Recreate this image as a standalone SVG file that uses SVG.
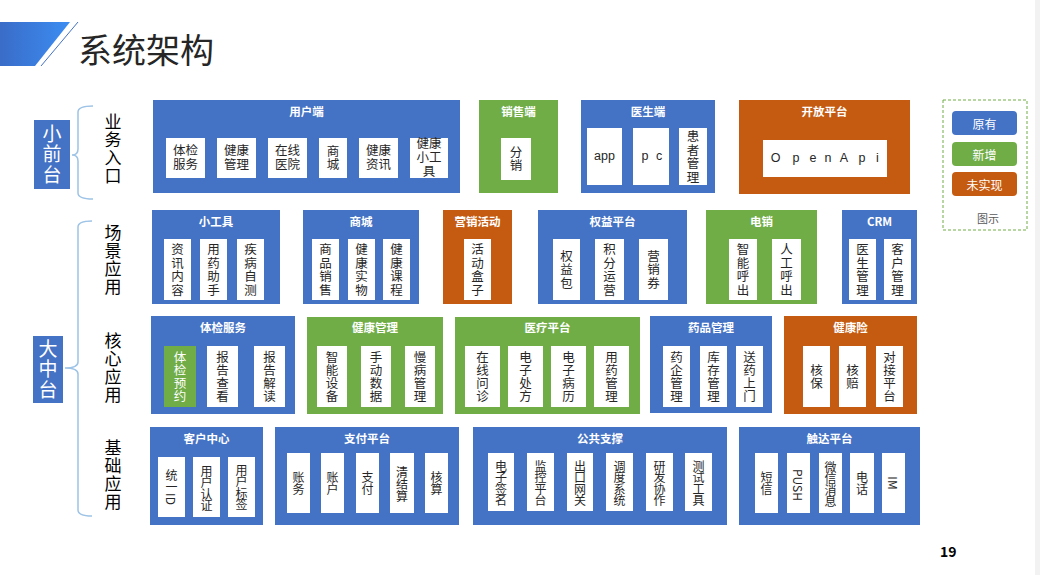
<svg xmlns="http://www.w3.org/2000/svg" width="1040" height="575" viewBox="0 0 1040 575">
<defs>
<linearGradient id="tg" x1="0" y1="0" x2="1" y2="0"><stop offset="0" stop-color="#3a6cc8"/><stop offset="1" stop-color="#3b8df2"/></linearGradient>
<style>
.b{fill:#4472c4}.g{fill:#70ad47}.o{fill:#c55a11}.w{fill:#fff}
text{font-family:"Noto Sans CJK SC","Noto Sans",sans-serif}
.t{font-size:11.5px;font-weight:bold;fill:#fff;text-anchor:middle;dominant-baseline:central}
.h{font-family:"Liberation Sans","Noto Sans CJK SC",sans-serif;font-size:12.5px;fill:#262626;text-anchor:middle;dominant-baseline:central}
.v{writing-mode:vertical-rl;text-anchor:middle;fill:#262626;font-size:12.5px}
.r2{letter-spacing:1px}
.r3{letter-spacing:0.5px}
.r4{font-size:12px}
.r4t{font-size:12px;letter-spacing:-0.5px}
.cw{fill:#fff}
.s{writing-mode:vertical-rl;text-anchor:middle;font-size:17px;fill:#000;letter-spacing:1px}
.side{writing-mode:vertical-rl;text-anchor:middle;font-size:19px;fill:#fff;letter-spacing:1.5px}
.lg{font-size:12px;fill:#fff;text-anchor:middle;dominant-baseline:central}
.br{fill:none;stroke:#9dc3e6;stroke-width:1.5}
</style>
</defs>
<rect width="1040" height="575" fill="#fff"/>
<rect x="1035" y="0" width="5" height="575" fill="#f2f2f2"/>
<g id="title">
<polygon points="0,22 70,22 35,66 0,66" fill="url(#tg)"/>
<line x1="78" y1="22" x2="41" y2="66" stroke="#4472c4" stroke-width="1"/>
<text x="78" y="63" font-size="34" fill="#262626">系统架构</text>
</g>
<g id="connectors">
<path class="br" d="M93,106 Q78,106 78,112 V149 Q78,155 72,155 Q78,155 78,161 V193 Q78,199 93,199"/>
<path class="br" d="M92,221 Q78,221 78,227 V362 Q78,368 65,368 Q78,368 78,374 V510 Q78,516 92,516"/>
</g>
<g id="side-small">
<rect class="b" x="34" y="120" width="36" height="69"/>
<text class="side" x="52" y="155">小前台</text>
</g>
<g id="side-big">
<rect class="b" x="33" y="336" width="30" height="67"/>
<text class="side" x="48" y="370">大中台</text>
</g>
<g id="labels">
<text class="s" x="113" y="149">业务入口</text>
<text class="s" x="113" y="260">场景应用</text>
<text class="s" x="113" y="368">核心应用</text>
<text class="s" x="113" y="475">基础应用</text>
</g>

<!-- Row 1 -->
<g id="n-yonghuduan">
<rect class="b" x="153" y="100" width="307" height="93"/>
<text class="t" x="306.5" y="110.5">用户端</text>
<rect class="w" x="166" y="138" width="39" height="40"/>
<text class="h"><tspan x="185.5" y="151">体检</tspan><tspan x="185.5" y="165">服务</tspan></text>
<rect class="w" x="217" y="138" width="39" height="40"/>
<text class="h"><tspan x="236.5" y="151">健康</tspan><tspan x="236.5" y="165">管理</tspan></text>
<rect class="w" x="268" y="138" width="39" height="40"/>
<text class="h"><tspan x="287.5" y="151">在线</tspan><tspan x="287.5" y="165">医院</tspan></text>
<rect class="w" x="319" y="138" width="28" height="40"/>
<text class="v r2" x="333" y="158">商城</text>
<rect class="w" x="359" y="138" width="39" height="40"/>
<text class="h"><tspan x="378.5" y="151">健康</tspan><tspan x="378.5" y="165">资讯</tspan></text>
<rect class="w" x="410" y="138" width="38" height="40"/>
<text class="h"><tspan x="429" y="144">健康</tspan><tspan x="429" y="158">小工</tspan><tspan x="429" y="172">具</tspan></text>
</g>
<g id="n-xiaoshouduan">
<rect class="g" x="479" y="100" width="79" height="93"/>
<text class="t" x="518.5" y="110.5">销售端</text>
<rect class="w" x="501" y="138" width="30" height="42"/>
<text class="v r2" x="516" y="159">分销</text>
</g>
<g id="n-yishengduan">
<rect class="b" x="581" y="100" width="134" height="93"/>
<text class="t" x="648" y="110.5">医生端</text>
<rect class="w" x="587" y="128" width="35" height="57"/>
<text class="h" x="604.5" y="156" font-size="13.5">app</text>
<rect class="w" x="633" y="128" width="36" height="57"/>
<text class="h" font-size="13.5"><tspan x="645" y="156">p</tspan><tspan x="659" y="156">c</tspan></text>
<rect class="w" x="679" y="128" width="28" height="57"/>
<text class="v r2" x="693" y="157">患者管理</text>
</g>
<g id="n-kaifangpingtai">
<rect class="o" x="739" y="100" width="171" height="94"/>
<text class="t" x="824.5" y="110.5">开放平台</text>
<rect class="w" x="763" y="140" width="124" height="37"/>
<text class="h" font-size="14"><tspan x="775.5" y="158">O</tspan><tspan x="796" y="158">p</tspan><tspan x="813" y="158">e</tspan><tspan x="828" y="158">n</tspan><tspan x="844" y="158">A</tspan><tspan x="862" y="158">p</tspan><tspan x="877.5" y="158">i</tspan></text>
</g>
<g id="legend">
<rect x="943" y="100" width="84" height="130" fill="none" stroke="#70ad47" stroke-width="1" stroke-dasharray="3,2"/>
<rect class="b" x="952" y="111" width="65" height="24" rx="4"/>
<text class="lg" x="984.5" y="123">原有</text>
<rect class="g" x="952" y="142" width="65" height="24" rx="4"/>
<text class="lg" x="984.5" y="154">新增</text>
<rect class="o" x="952" y="172" width="65" height="24" rx="4"/>
<text class="lg" x="984.5" y="184">未实现</text>
<text x="988" y="218" font-size="11" fill="#595959" text-anchor="middle" dominant-baseline="central">图示</text>
</g>

<!-- Row 2 -->
<g id="n-xiaogongju">
<rect class="b" x="152" y="210" width="128" height="94"/>
<text class="t" x="216" y="220.5">小工具</text>
<rect class="w" x="164" y="239" width="27" height="61"/>
<text class="v r2" x="177.5" y="270">资讯内容</text>
<rect class="w" x="200" y="239" width="27" height="61"/>
<text class="v r2" x="213.5" y="270">用药助手</text>
<rect class="w" x="237" y="239" width="27" height="61"/>
<text class="v r2" x="250.5" y="270">疾病自测</text>
</g>
<g id="n-shangcheng">
<rect class="b" x="303" y="210" width="116" height="94"/>
<text class="t" x="361" y="220.5">商城</text>
<rect class="w" x="312" y="239" width="27" height="61"/>
<text class="v r2" x="325.5" y="270">商品销售</text>
<rect class="w" x="348" y="239" width="27" height="61"/>
<text class="v r2" x="361.5" y="270">健康实物</text>
<rect class="w" x="383" y="239" width="27" height="61"/>
<text class="v r2" x="396.5" y="270">健康课程</text>
</g>
<g id="n-yingxiaohuodong">
<rect class="o" x="443" y="210" width="69" height="94"/>
<text class="t" x="477.5" y="220.5">营销活动</text>
<rect class="w" x="464" y="239" width="27" height="61"/>
<text class="v r2" x="477.5" y="270">活动盒子</text>
</g>
<g id="n-quanyipingtai">
<rect class="b" x="538" y="210" width="149" height="94"/>
<text class="t" x="612.5" y="220.5">权益平台</text>
<rect class="w" x="553" y="239" width="27" height="61"/>
<text class="v r2" x="566.5" y="270">权益包</text>
<rect class="w" x="595" y="239" width="29" height="61"/>
<text class="v r2" x="609.5" y="270">积分运营</text>
<rect class="w" x="639" y="239" width="29" height="61"/>
<text class="v r2" x="653.5" y="270">营销券</text>
</g>
<g id="n-dianxiao">
<rect class="g" x="706" y="210" width="111" height="94"/>
<text class="t" x="761.5" y="220.5">电销</text>
<rect class="w" x="729" y="239" width="28" height="61"/>
<text class="v r2" x="743" y="270">智能呼出</text>
<rect class="w" x="772" y="239" width="29" height="61"/>
<text class="v r2" x="786.5" y="270">人工呼出</text>
</g>
<g id="n-crm">
<rect class="b" x="842" y="210" width="75" height="94"/>
<text class="t" x="879.5" y="220.5">CRM</text>
<rect class="w" x="849" y="239" width="27" height="61"/>
<text class="v r2" x="862.5" y="270">医生管理</text>
<rect class="w" x="884" y="239" width="27" height="61"/>
<text class="v r2" x="897.5" y="270">客户管理</text>
</g>

<!-- Row 3 -->
<g id="n-tijianfuwu">
<rect class="b" x="151" y="316" width="144" height="98"/>
<text class="t" x="223" y="327">体检服务</text>
<rect class="g" x="164" y="346" width="32" height="61"/>
<text class="v r3 cw" x="180" y="377">体检预约</text>
<rect class="w" x="207" y="346" width="31" height="61"/>
<text class="v r3" x="222.5" y="377">报告查看</text>
<rect class="w" x="254" y="346" width="31" height="61"/>
<text class="v r3" x="269.5" y="377">报告解读</text>
</g>
<g id="n-jiankangguanli">
<rect class="g" x="307" y="317" width="136" height="97"/>
<text class="t" x="375" y="327">健康管理</text>
<rect class="w" x="317" y="346" width="30" height="61"/>
<text class="v r3" x="332" y="377">智能设备</text>
<rect class="w" x="361" y="346" width="30" height="61"/>
<text class="v r3" x="376" y="377">手动数据</text>
<rect class="w" x="405" y="346" width="30" height="61"/>
<text class="v r3" x="420" y="377">慢病管理</text>
</g>
<g id="n-yiliaopingtai">
<rect class="g" x="455" y="317" width="185" height="97"/>
<text class="t" x="547.5" y="327">医疗平台</text>
<rect class="w" x="465" y="346" width="35" height="61"/>
<text class="v r3" x="482.5" y="377">在线问诊</text>
<rect class="w" x="508" y="346" width="35" height="61"/>
<text class="v r3" x="525.5" y="377">电子处方</text>
<rect class="w" x="551" y="346" width="35" height="61"/>
<text class="v r3" x="568.5" y="377">电子病历</text>
<rect class="w" x="594" y="346" width="35" height="61"/>
<text class="v r3" x="611.5" y="377">用药管理</text>
</g>
<g id="n-yaopinguanli">
<rect class="b" x="650" y="316" width="122" height="97"/>
<text class="t" x="711" y="327">药品管理</text>
<rect class="w" x="663" y="346" width="27" height="61"/>
<text class="v r3" x="676.5" y="377">药企管理</text>
<rect class="w" x="700" y="346" width="27" height="61"/>
<text class="v r3" x="713.5" y="377">库存管理</text>
<rect class="w" x="736" y="346" width="27" height="61"/>
<text class="v r3" x="749.5" y="377">送药上门</text>
</g>
<g id="n-jiankangxian">
<rect class="o" x="784" y="316" width="133" height="98"/>
<text class="t" x="850.5" y="327">健康险</text>
<rect class="w" x="803" y="346" width="27" height="61"/>
<text class="v r3" x="816.5" y="377">核保</text>
<rect class="w" x="839" y="346" width="27" height="61"/>
<text class="v r3" x="852.5" y="377">核赔</text>
<rect class="w" x="876" y="346" width="27" height="61"/>
<text class="v r3" x="889.5" y="377">对接平台</text>
</g>

<!-- Row 4 -->
<g id="n-kehuzhongxin">
<rect class="b" x="150" y="427" width="113" height="98"/>
<text class="t" x="206.5" y="437.5">客户中心</text>
<rect class="w" x="158" y="457" width="27" height="60"/>
<text class="v r4" x="171.5" y="487">统一ID</text>
<rect class="w" x="193" y="457" width="27" height="60"/>
<text class="v r4t" x="206.5" y="488">用户认证</text>
<rect class="w" x="228" y="457" width="27" height="60"/>
<text class="v r4t" x="241.5" y="487">用户标签</text>
</g>
<g id="n-zhifupingtai">
<rect class="b" x="275" y="427" width="184" height="98"/>
<text class="t" x="367" y="437.5">支付平台</text>
<rect class="w" x="287" y="453" width="23" height="60"/>
<text class="v r4" x="298.5" y="483">账务</text>
<rect class="w" x="321" y="453" width="23" height="60"/>
<text class="v r4" x="332.5" y="483">账户</text>
<rect class="w" x="356" y="453" width="23" height="60"/>
<text class="v r4" x="367.5" y="483">支付</text>
<rect class="w" x="390" y="453" width="24" height="60"/>
<text class="v r4" x="402" y="484">清结算</text>
<rect class="w" x="425" y="453" width="23" height="60"/>
<text class="v r4" x="436.5" y="483">核算</text>
</g>
<g id="n-gonggongzhicheng">
<rect class="b" x="473" y="427" width="254" height="98"/>
<text class="t" x="600" y="437.5">公共支撑</text>
<rect class="w" x="488" y="453" width="26" height="58"/>
<text class="v r4t" x="501" y="483">电子签名</text>
<rect class="w" x="527" y="453" width="27" height="58"/>
<text class="v r4t" x="540.5" y="483">监控平台</text>
<rect class="w" x="567" y="453" width="26" height="58"/>
<text class="v r4t" x="580" y="483">出口网关</text>
<rect class="w" x="606" y="453" width="27" height="58"/>
<text class="v r4t" x="619.5" y="483">调度系统</text>
<rect class="w" x="646" y="453" width="27" height="58"/>
<text class="v r4t" x="659.5" y="483">研发协作</text>
<rect class="w" x="685" y="453" width="27" height="58"/>
<text class="v r4t" x="698.5" y="483">测试工具</text>
</g>
<g id="n-chudapingtai">
<rect class="b" x="739" y="427" width="181" height="98"/>
<text class="t" x="829.5" y="437.5">触达平台</text>
<rect class="w" x="755" y="453" width="23" height="60"/>
<text class="v r4" x="766.5" y="483">短信</text>
<rect class="w" x="787" y="453" width="23" height="60"/>
<text class="v r4" x="798.5" y="485">PUSH</text>
<rect class="w" x="819" y="453" width="23" height="60"/>
<text class="v r4t" x="830.5" y="484">微信消息</text>
<rect class="w" x="850" y="453" width="24" height="60"/>
<text class="v r4" x="862" y="483">电话</text>
<rect class="w" x="882" y="453" width="23" height="60"/>
<text class="v r4" x="893.5" y="483">IM</text>
</g>
<g id="page">
<text x="940" y="557" font-size="14" font-weight="bold" fill="#000" font-family="'Liberation Sans',sans-serif">19</text>
</g>
</svg>
